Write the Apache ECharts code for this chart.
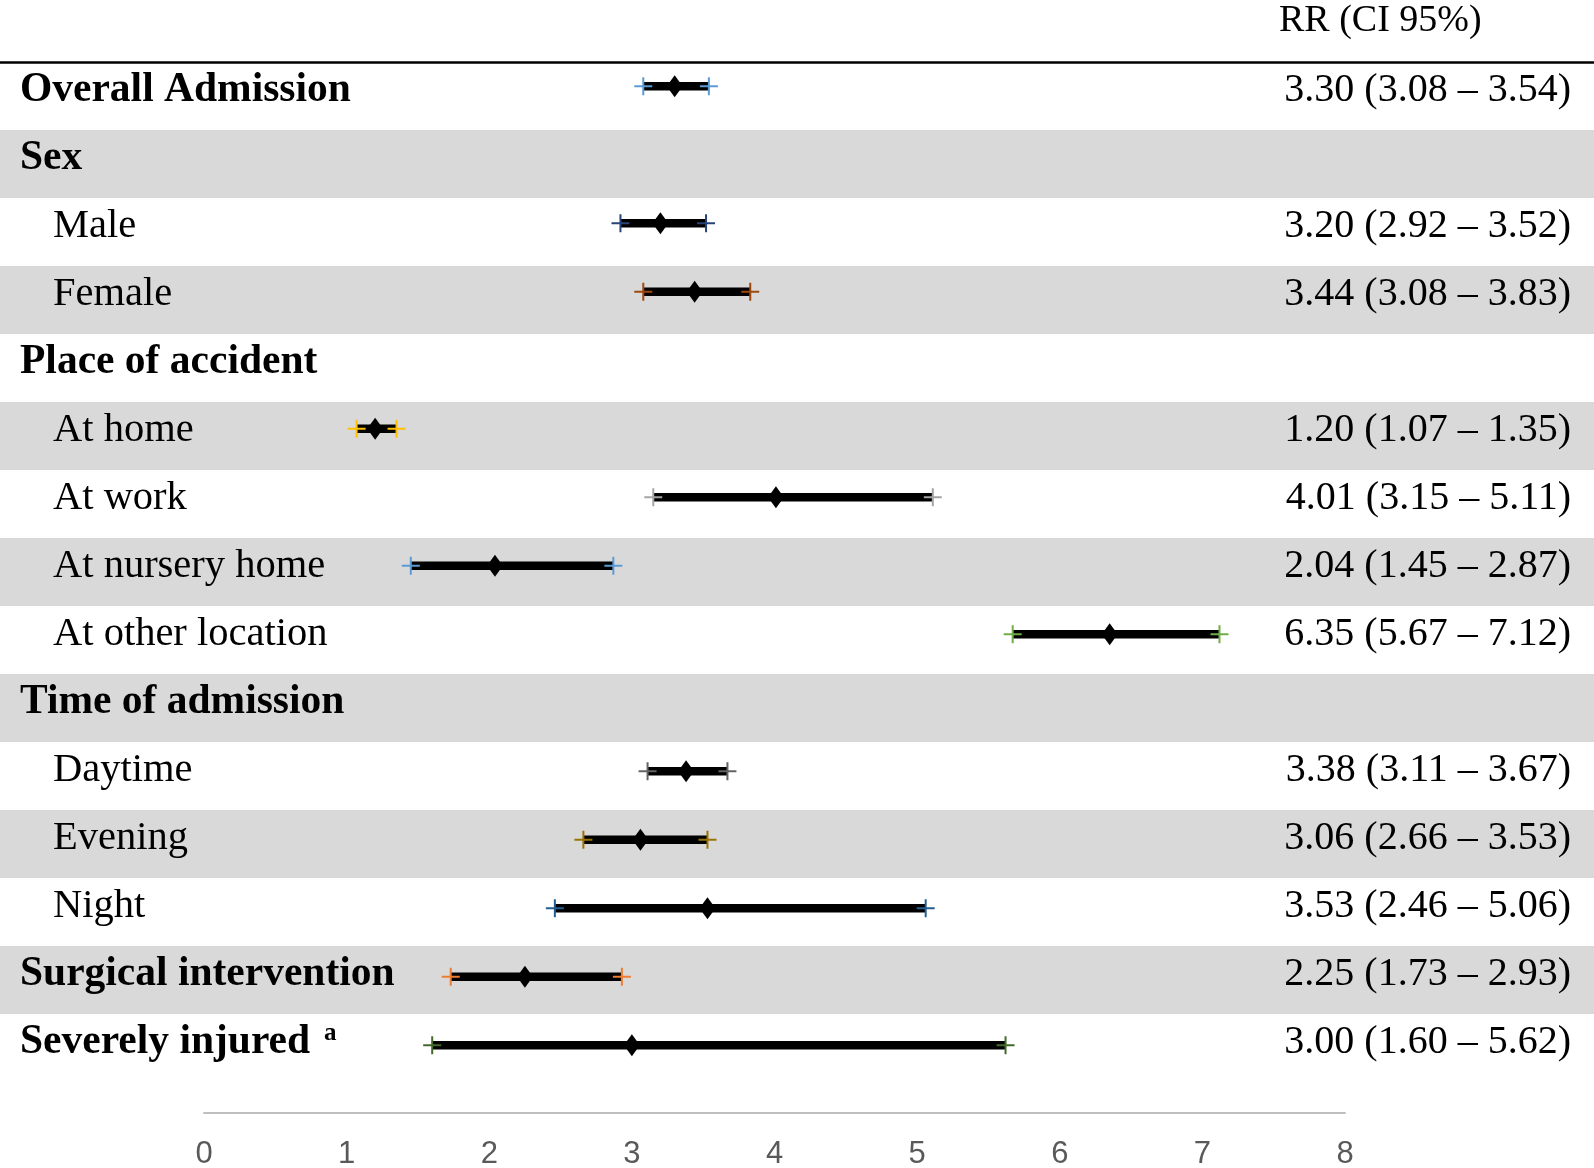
<!DOCTYPE html>
<html>
<head>
<meta charset="utf-8">
<script src="https://cdn.jsdelivr.net/npm/echarts@6/dist/echarts.min.js"></script>
<style>
  html, body { margin: 0; padding: 0; background: #fff; }
  #chart { width: 1594px; height: 1168px; }
</style>
</head>
<body>
<div id="chart"></div>
<script>
const rowLabels = [
  'Overall Admission', 'Sex', 'Male', 'Female', 'Place of accident',
  'At home', 'At work', 'At nursery home', 'At other location',
  'Time of admission', 'Daytime', 'Evening', 'Night',
  'Surgical intervention', 'Severely injured'
];
// bold rows (section headers / single outcomes)
const boldRows = [0, 1, 4, 9, 13, 14];
const footnoteRows = { 14: 'a' };

const rrValues = [3.30, null, 3.20, 3.44, null, 1.20, 4.01, 2.04, 6.35, null, 3.38, 3.06, 3.53, 2.25, 3.00];
const ciLow    = [3.08, null, 2.92, 3.08, null, 1.07, 3.15, 1.45, 5.67, null, 3.11, 2.66, 2.46, 1.73, 1.60];
const ciHigh   = [3.54, null, 3.52, 3.83, null, 1.35, 5.11, 2.87, 7.12, null, 3.67, 3.53, 5.06, 2.93, 5.62];

const axisTicks = [0, 1, 2, 3, 4, 5, 6, 7, 8];

const capColors = [
  '#5b9bd5', null, '#264478', '#9e480e', null, '#ffc000', '#a5a5a5', '#5b9bd5',
  '#70ad47', null, '#636363', '#997300', '#255e91', '#ed7d31', '#43682b'
];

const chart = echarts.init(document.getElementById('chart'));

const serif = 'Liberation Serif';
const rowH = 68;
const nRows = rowLabels.length;

const ciData = [];
rrValues.forEach((rr, i) => {
  if (rr == null) return;
  ciData.push([i, ciLow[i], ciHigh[i], rr]);
});

function renderCI(params, api) {
  const row = api.value(0);
  const lo = api.coord([api.value(1), row]);
  const hi = api.coord([api.value(2), row]);
  const mid = api.coord([api.value(3), row]);
  const y = lo[1];
  const color = capColors[row];
  const cap = (x) => ({
    type: 'group',
    children: [
      { type: 'line', shape: { x1: x - 9, y1: y, x2: x + 9, y2: y }, style: { stroke: color, lineWidth: 2 } },
      { type: 'line', shape: { x1: x, y1: y - 9, x2: x, y2: y + 9 }, style: { stroke: color, lineWidth: 2 } }
    ]
  });
  return {
    type: 'group',
    children: [
      { type: 'line', shape: { x1: lo[0], y1: y, x2: hi[0], y2: y }, style: { stroke: '#000', lineWidth: 8.5 } },
      cap(lo[0]),
      cap(hi[0]),
      {
        type: 'polygon',
        shape: { points: [[mid[0], y - 11], [mid[0] + 8, y], [mid[0], y + 11], [mid[0] - 8, y]] },
        style: { fill: '#000' }
      }
    ]
  };
}

chart.setOption({
  animation: false,
  title: {
    text: 'RR (CI 95%)',
    left: 1279,
    top: 2,
    padding: 0,
    textStyle: { fontFamily: serif, fontSize: 38, fontWeight: 'normal', color: '#000' }
  },
  grid: [
    { left: 0, right: 0, top: 62, height: rowH * nRows, outerBoundsMode: 'none' },
    { left: 204, right: 249, top: 56, height: rowH * nRows, outerBoundsMode: 'none' },
    { left: 204, right: 249, top: 52, height: 68.5 * nRows, outerBoundsMode: 'none' }
  ],
  xAxis: [
    {
      gridIndex: 0, type: 'value', min: 0, max: 1, position: 'top',
      axisLine: { show: true, lineStyle: { color: '#000', width: 2.5 } },
      axisTick: { show: false }, axisLabel: { show: false }, splitLine: { show: false }
    },
    {
      gridIndex: 1, type: 'value', min: axisTicks[0], max: axisTicks[axisTicks.length - 1], interval: 1,
      position: 'bottom', offset: 37,
      axisLine: { show: true, lineStyle: { color: '#bfbfbf', width: 2 } },
      axisTick: { show: false },
      splitLine: { show: false },
      axisLabel: { color: '#595959', fontSize: 31, fontFamily: 'Liberation Sans', margin: 26 }
    },
    {
      gridIndex: 2, type: 'value', min: axisTicks[0], max: axisTicks[axisTicks.length - 1],
      show: false
    }
  ],
  yAxis: [
    {
      gridIndex: 0, type: 'category', inverse: true, data: rowLabels,
      axisLine: { show: false }, axisTick: { show: false }, axisLabel: { show: false },
      splitArea: { show: true, interval: 0, areaStyle: { color: ['#ffffff', '#d9d9d9'] } }
    },
    {
      gridIndex: 1, type: 'category', inverse: true, data: rowLabels,
      axisLine: { show: false }, axisTick: { show: false }, splitLine: { show: false },
      axisLabel: {
        interval: 0, align: 'left', margin: 184,
        fontFamily: serif, fontSize: 40, color: '#000',
        formatter: (v, i) => {
          if (boldRows.includes(i)) {
            const note = footnoteRows[i] ? ' {sup|' + footnoteRows[i] + '}' : '';
            return '{b|' + v + '}' + note;
          }
          return '{s|' + v + '}';
        },
        rich: {
          b: { fontFamily: serif, fontSize: 41.5, fontWeight: 'bold', color: '#000' },
          s: { fontFamily: serif, fontSize: 40.5, color: '#000', padding: [0, 0, 0, 33] },
          sup: { fontFamily: serif, fontSize: 25, fontWeight: 'bold', color: '#000', padding: [0, 0, 16, 4] }
        }
      }
    },
    {
      gridIndex: 1, type: 'category', inverse: true, position: 'right', data: rowLabels,
      axisLine: { show: false }, axisTick: { show: false }, splitLine: { show: false },
      axisLabel: {
        interval: 0, align: 'right', margin: 226,
        fontFamily: serif, fontSize: 40, color: '#000',
        formatter: (v, i) => rrValues[i] == null ? '' :
          rrValues[i].toFixed(2) + ' (' + ciLow[i].toFixed(2) + ' \u2013 ' + ciHigh[i].toFixed(2) + ')'
      }
    },
    {
      gridIndex: 2, type: 'category', inverse: true, data: rowLabels, show: false
    }
  ],
  series: [
    {
      type: 'custom',
      xAxisIndex: 2,
      yAxisIndex: 3,
      renderItem: renderCI,
      encode: { x: [1, 2, 3], y: 0 },
      data: ciData
    }
  ]
});

window.addEventListener('resize', () => {
  chart.resize();
});
</script>
</body>
</html>
